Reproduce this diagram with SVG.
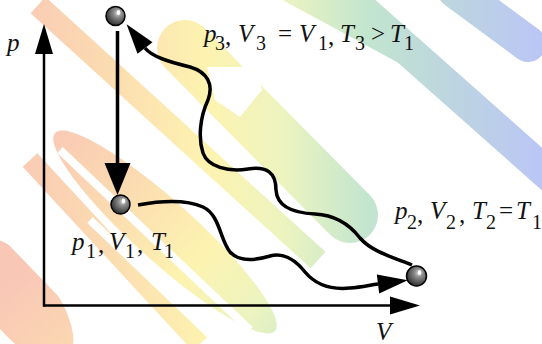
<svg xmlns="http://www.w3.org/2000/svg" width="542" height="344" viewBox="0 0 542 344">
<style>
.lab{font-family:"Liberation Serif","DejaVu Serif",serif;font-size:25px;fill:#111}
.it{font-style:italic}
.sub{font-size:20px}
.wm{fill:none;stroke:url(#rain)}
.ax{stroke:#000;stroke-width:2.5;fill:none}
.wave{stroke:#000;stroke-width:3.5;fill:none}
.ball{fill:url(#ballg);stroke:#000;stroke-width:1.5}
.hl{fill:#fff}
</style>
<defs>
<linearGradient id="rain" gradientUnits="userSpaceOnUse" x1="0" y1="0" x2="542" y2="0">
<stop offset="0" stop-color="#f9c7b6"/>
<stop offset="0.18" stop-color="#fbd9b1"/>
<stop offset="0.38" stop-color="#fdf3b0"/>
<stop offset="0.52" stop-color="#edf4bf"/>
<stop offset="0.68" stop-color="#c2e5cf"/>
<stop offset="0.82" stop-color="#bdd6de"/>
<stop offset="1" stop-color="#bac6f6"/>
</linearGradient>
<radialGradient id="ballg" cx="0.62" cy="0.35" r="0.75">
<stop offset="0" stop-color="#d8d8d8"/>
<stop offset="0.3" stop-color="#8a8a8a"/>
<stop offset="0.75" stop-color="#444"/>
<stop offset="1" stop-color="#1a1a1a"/>
</radialGradient>
<marker id="axh" markerUnits="userSpaceOnUse" markerWidth="32" markerHeight="20" refX="0" refY="10" orient="auto" overflow="visible">
<path d="M0,1 L30,10 L0,19 Z" fill="#000"/>
</marker>
<marker id="bigh" markerUnits="userSpaceOnUse" markerWidth="34" markerHeight="28" refX="0" refY="14" orient="auto" overflow="visible">
<path d="M0,1 L32,14 L0,27 Z" fill="#000"/>
</marker>
<marker id="wvh" markerUnits="userSpaceOnUse" markerWidth="32" markerHeight="20" refX="0" refY="10" orient="auto-start-reverse" overflow="visible">
<path d="M0,0.5 L30,10 L0,19.5 Z" fill="#000"/>
</marker>
</defs>
<g id="watermark">
<line class="wm" x1="38" y1="5" x2="318" y2="260" stroke-width="22"/>
<ellipse cx="165" cy="232" rx="148" ry="30" transform="rotate(42 165 232)" fill="url(#rain)"/>
<line class="wm" x1="30" y1="160" x2="200" y2="344" stroke-width="20"/>
<ellipse cx="20" cy="300" rx="75" ry="34" transform="rotate(52 20 300)" fill="url(#rain)"/>
<line class="wm" x1="185" y1="48" x2="350" y2="215" stroke-width="56" stroke-linecap="round"/>
<line class="wm" x1="340" y1="-10" x2="560" y2="185" stroke-width="32"/>
<line class="wm" x1="292" y1="-12" x2="410" y2="52" stroke-width="30" stroke-linecap="round"/>
<line class="wm" x1="455" y1="-10" x2="528" y2="44" stroke-width="36" stroke-linecap="round"/>
<g stroke="#fff" stroke-width="8" fill="none">
<line x1="60" y1="150" x2="250" y2="330"/>
<line x1="0" y1="230" x2="110" y2="344"/>
<line x1="40" y1="250" x2="140" y2="344"/>
<line x1="90" y1="220" x2="220" y2="344"/>
</g>
<path d="M207,67 L255,67 L262,90 L240,117 L215,100 Z" fill="#fff"/>
</g>
<g id="axes">
<line class="ax" x1="44" y1="306.5" x2="44" y2="54" marker-end="url(#axh)"/>
<line class="ax" x1="43" y1="305.5" x2="390" y2="305.5" marker-end="url(#axh)"/>
<text class="lab it" x="7" y="51">p</text>
<text class="lab it" x="376" y="340">V</text>
</g>
<g id="connectors">
<line class="wave" x1="117.5" y1="31" x2="117.5" y2="163" marker-end="url(#bigh)"/>
<path class="wave" d="M145,48 C152,57 170,62 190,67 C207,72 214,84 208,100 C200,117 198,138 203,153 C208,167 228,172 248,169 C266,166 276,172 276,190 C277,206 292,213 315,214 C335,215 350,225 360,238 C372,252 395,258 412,265" marker-start="url(#wvh)"/>
<path class="wave" d="M138,205 C160,201 185,199 203,207 C220,215 220,240 230,252 C240,263 257,260 270,256 C285,252 297,262 305,272 C315,284 330,290 350,288 C362,287 370,285 378,284" marker-end="url(#wvh)"/>
</g>
<g id="state3">
<circle class="ball" cx="115.5" cy="16" r="9.5"/>
<ellipse class="hl" cx="118.5" cy="12.5" rx="1.8" ry="2.4"/>
<text class="lab"><tspan class="it" x="204" y="42">p</tspan><tspan class="sub" x="215" y="50">3</tspan><tspan x="225" y="45">,</tspan><tspan class="it" x="238" y="42">V</tspan><tspan class="sub" x="256" y="50">3</tspan><tspan x="278" y="42">=</tspan><tspan class="it" x="299" y="42">V</tspan><tspan class="sub" x="318" y="50">1</tspan><tspan x="328" y="45">,</tspan><tspan class="it" x="340" y="42">T</tspan><tspan class="sub" x="355" y="50">3</tspan><tspan x="371" y="42">&gt;</tspan><tspan class="it" x="390" y="42">T</tspan><tspan class="sub" x="404" y="50">1</tspan></text>
</g>
<g id="state1">
<circle class="ball" cx="120.5" cy="204.5" r="9.5"/>
<ellipse class="hl" cx="123.5" cy="201" rx="1.8" ry="2.4"/>
<text class="lab"><tspan class="it" x="72" y="250">p</tspan><tspan class="sub" x="86" y="258">1</tspan><tspan x="98" y="253">,</tspan><tspan class="it" x="109" y="250">V</tspan><tspan class="sub" x="125" y="258">1</tspan><tspan x="137" y="253">,</tspan><tspan class="it" x="151" y="250">T</tspan><tspan class="sub" x="164" y="258">1</tspan></text>
</g>
<g id="state2">
<circle class="ball" cx="416.5" cy="276" r="10"/>
<ellipse class="hl" cx="419.5" cy="272.5" rx="1.8" ry="2.6"/>
<text class="lab"><tspan class="it" x="395" y="219">p</tspan><tspan class="sub" x="407" y="229">2</tspan><tspan x="417" y="223">,</tspan><tspan class="it" x="430" y="219">V</tspan><tspan class="sub" x="446" y="229">2</tspan><tspan x="459" y="223">,</tspan><tspan class="it" x="472" y="219">T</tspan><tspan class="sub" x="486" y="229">2</tspan><tspan x="499" y="219">=</tspan><tspan class="it" x="516" y="219">T</tspan><tspan class="sub" x="532" y="229">1</tspan></text>
</g>
</svg>
